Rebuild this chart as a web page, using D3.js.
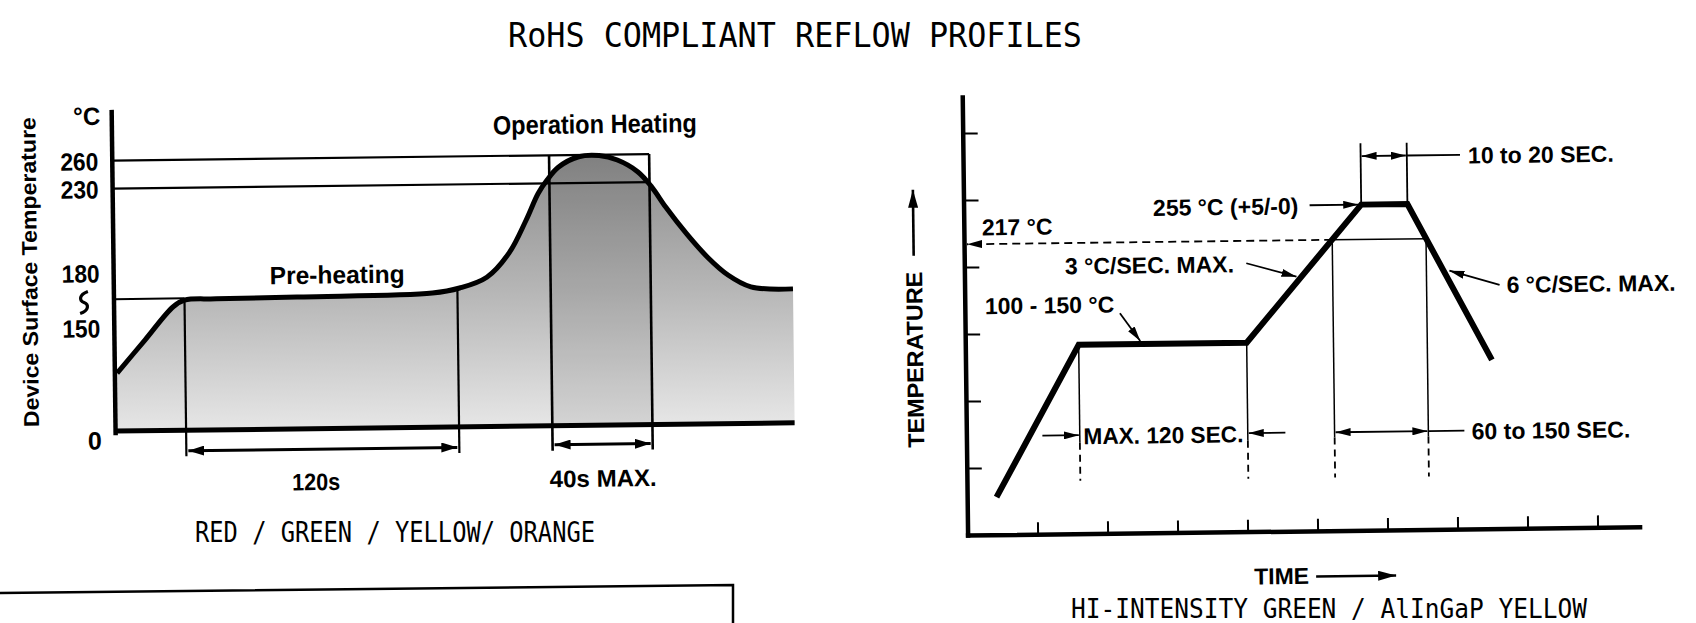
<!DOCTYPE html>
<html>
<head>
<meta charset="utf-8">
<script src="https://cdn.jsdelivr.net/npm/d3@7"></script>
<style>
  html, body { margin: 0; padding: 0; background: #fff; }
  svg { display: block; }
</style>
</head>
<body>
<svg id="chart" width="1696" height="623"></svg>
<script>
// ---------- data ----------
// left profile (RED / GREEN / YELLOW / ORANGE): time [s] and temperature [°C]
const leftTime = [1, 13.4, 26, 31, 45, 82, 140, 152, 164, 174, 181.5, 187, 191, 196, 205, 214, 222, 231, 237, 243, 252, 261, 270, 280, 298.5];
const leftTemp = [84, 131.4, 161, 164.5, 165, 165.5, 166.7, 169.3, 175, 189, 208, 224, 233.5, 247, 258, 259, 254, 241, 227, 215, 199, 185, 174.6, 168, 166.6];
const leftTicks = [0, 150, 180, 230, 260];
const leftTickLabels = ["0", "150", "180", "230", "260"];
const preheatWindow = [31, 151];   // 120s
const peakWindow = [192, 236];     // 40s MAX.
const preheatLevel = 165.5;

// right profile (HI-INTENSITY GREEN / AlInGaP YELLOW)
const rightTime = [21, 81, 201, 284, 317, 376];
const rightTemp = [28, 141, 141, 243, 243, 126];
const rightXTicks = [50, 100, 150, 200, 250, 300, 350, 400, 450];
const rightYTicks = [50, 100, 150, 200, 250, 300];
const liquidus = 217;
const soakWindow = [81, 201];
const liquidusWindow = [263, 330];
const peakHold = [284, 317];

const svg = d3.select("#chart");
const bold = "'Liberation Sans', Arial, sans-serif";
const mono = "'DejaVu Sans Mono', monospace";

// ---------- defs ----------
const defs = svg.append("defs");
function marker(id, w, h) {
  defs.append("marker")
    .attr("id", id)
    .attr("viewBox", `0 0 ${w} ${h}`)
    .attr("refX", w).attr("refY", h / 2)
    .attr("markerWidth", w).attr("markerHeight", h)
    .attr("markerUnits", "userSpaceOnUse")
    .attr("orient", "auto-start-reverse")
    .append("path")
    .attr("d", `M0,0L${w},${h / 2}L0,${h}Z`)
    .attr("fill", "#000");
}
marker("headL", 16, 10);
marker("headR", 15, 8);
marker("headBig", 18, 10);

// ---------- titles ----------
svg.append("text")
  .attr("x", 795).attr("y", 47)
  .attr("text-anchor", "middle")
  .attr("font-family", mono).attr("font-size", 34)
  .attr("textLength", 574).attr("lengthAdjust", "spacingAndGlyphs")
  .text("RoHS COMPLIANT REFLOW PROFILES");

svg.append("text")
  .attr("x", 195).attr("y", 541.5)
  .attr("font-family", mono).attr("font-size", 27.5)
  .attr("textLength", 400).attr("lengthAdjust", "spacingAndGlyphs")
  .text("RED / GREEN / YELLOW/ ORANGE");

svg.append("text")
  .attr("x", 1071).attr("y", 618)
  .attr("font-family", mono).attr("font-size", 26)
  .attr("textLength", 516).attr("lengthAdjust", "spacingAndGlyphs")
  .text("HI-INTENSITY GREEN / AlInGaP YELLOW");

// frame in lower left
svg.append("path")
  .attr("d", "M0,593L733,585L733,630")
  .attr("fill", "none").attr("stroke", "#000").attr("stroke-width", 2.5);

// ================= LEFT CHART =================
const gL = svg.append("g").attr("transform", "rotate(-0.7,450,300)");

const lx = d3.scaleLinear().domain([0, 300]).range([114, 796.5]);
const ly = d3.scaleLinear().domain(leftTicks).range([427, 323.5, 268.5, 184.5, 156.5]);

const leftData = leftTime.map((t, i) => ({ t, v: leftTemp[i] }));

const grad = defs.append("linearGradient")
  .attr("id", "fillGrad")
  .attr("gradientUnits", "userSpaceOnUse")
  .attr("x1", 0).attr("x2", 0)
  .attr("y1", ly(260)).attr("y2", ly(0));
grad.append("stop").attr("offset", 0).attr("stop-color", "#8c8c8c");
grad.append("stop").attr("offset", 0.5).attr("stop-color", "#b6b6b6");
grad.append("stop").attr("offset", 1).attr("stop-color", "#e6e6e6");

const curve = d3.curveCatmullRom.alpha(0.5);
const area = d3.area()
  .x(d => lx(d.t)).y0(ly(0)).y1(d => ly(d.v))
  .curve(curve);
const line = d3.line()
  .x(d => lx(d.t)).y(d => ly(d.v))
  .curve(curve);

defs.append("clipPath").attr("id", "areaClip")
  .append("path").attr("d", area(leftData));

gL.append("path")
  .attr("d", area(leftData))
  .attr("fill", "url(#fillGrad)");

// darker band inside the 40s window
gL.append("rect")
  .attr("x", lx(peakWindow[0])).attr("width", lx(peakWindow[1]) - lx(peakWindow[0]))
  .attr("y", ly(260) - 5).attr("height", ly(0) - ly(260) + 5)
  .attr("fill", "#000").attr("opacity", 0.08)
  .attr("clip-path", "url(#areaClip)");

// reference levels 260 / 230
[260, 230].forEach(v => {
  gL.append("line")
    .attr("x1", lx(0)).attr("x2", lx(peakWindow[1]))
    .attr("y1", ly(v)).attr("y2", ly(v))
    .attr("stroke", "#000").attr("stroke-width", 2.2);
});
// preheat level
gL.append("line")
  .attr("x1", lx(0)).attr("x2", lx(preheatWindow[0]))
  .attr("y1", ly(preheatLevel)).attr("y2", ly(preheatLevel))
  .attr("stroke", "#000").attr("stroke-width", 2);

// vertical markers
gL.append("line")
  .attr("x1", lx(preheatWindow[0])).attr("x2", lx(preheatWindow[0]))
  .attr("y1", ly(preheatLevel)).attr("y2", 453)
  .attr("stroke", "#000").attr("stroke-width", 2.2);
gL.append("line")
  .attr("x1", lx(preheatWindow[1])).attr("x2", lx(preheatWindow[1]))
  .attr("y1", ly(169)).attr("y2", 453)
  .attr("stroke", "#000").attr("stroke-width", 2.2);
peakWindow.forEach(t => {
  gL.append("line")
    .attr("x1", lx(t)).attr("x2", lx(t))
    .attr("y1", ly(260)).attr("y2", 452)
    .attr("stroke", "#000").attr("stroke-width", 2.6);
});

// profile curve
gL.append("path")
  .attr("d", line(leftData))
  .attr("fill", "none").attr("stroke", "#000").attr("stroke-width", 5)
  .attr("stroke-linejoin", "round");

// axes
gL.append("line")
  .attr("x1", lx(0)).attr("x2", lx(298.5))
  .attr("y1", ly(0)).attr("y2", ly(0))
  .attr("stroke", "#000").attr("stroke-width", 5);
gL.append("line")
  .attr("x1", lx(0)).attr("x2", lx(0))
  .attr("y1", ly(0) + 2).attr("y2", 108)
  .attr("stroke", "#000").attr("stroke-width", 4.5).attr("stroke-linecap", "square");

const lAxis = gL.append("g")
  .attr("transform", "translate(100,0)")
  .call(d3.axisLeft(ly).tickValues(leftTicks)
    .tickFormat((d, i) => leftTickLabels[i]).tickSize(0).tickPadding(0));
lAxis.select(".domain").remove();
lAxis.attr("font-family", bold).attr("font-size", 25).attr("font-weight", "bold");
lAxis.selectAll("text")
  .attr("fill", "#000")
  .attr("dy", d => d === 0 ? "0.7em" : "0.36em")
  .attr("textLength", d => d === 0 ? null : 38)
  .attr("lengthAdjust", "spacingAndGlyphs");

// axis break mark between 180 and 150
const brk = d3.path();
brk.moveTo(88, 287);
brk.bezierCurveTo(79, 290, 79, 296, 84, 298);
brk.bezierCurveTo(89, 300, 89, 306, 80, 309);
gL.append("path").attr("d", brk.toString())
  .attr("fill", "none").attr("stroke", "#000").attr("stroke-width", 3.2);

gL.append("text")
  .attr("x", 89).attr("y", 120.5).attr("text-anchor", "middle")
  .attr("font-family", bold).attr("font-weight", "bold").attr("font-size", 25)
  .attr("textLength", 27).attr("lengthAdjust", "spacingAndGlyphs")
  .text("°C");

gL.append("text")
  .attr("transform", "translate(37.5,267) rotate(-90)")
  .attr("text-anchor", "middle")
  .attr("font-family", bold).attr("font-weight", "bold").attr("font-size", 21.5)
  .attr("textLength", 310).attr("lengthAdjust", "spacingAndGlyphs")
  .text("Device Surface Temperature");

gL.append("text")
  .attr("x", 495).attr("y", 135)
  .attr("font-family", bold).attr("font-weight", "bold").attr("font-size", 26.5)
  .attr("textLength", 204).attr("lengthAdjust", "spacingAndGlyphs")
  .text("Operation Heating");

gL.append("text")
  .attr("x", 270).attr("y", 282)
  .attr("font-family", bold).attr("font-weight", "bold").attr("font-size", 25)
  .attr("textLength", 135).attr("lengthAdjust", "spacingAndGlyphs")
  .text("Pre-heating");

// duration arrows
gL.append("line")
  .attr("x1", lx(preheatWindow[0]) + 2).attr("x2", lx(preheatWindow[1]) - 2)
  .attr("y1", 447.5).attr("y2", 447.5)
  .attr("stroke", "#000").attr("stroke-width", 3)
  .attr("marker-start", "url(#headL)").attr("marker-end", "url(#headL)");
gL.append("line")
  .attr("x1", lx(peakWindow[0]) + 2).attr("x2", lx(peakWindow[1]) - 2)
  .attr("y1", 446).attr("y2", 446)
  .attr("stroke", "#000").attr("stroke-width", 3)
  .attr("marker-start", "url(#headL)").attr("marker-end", "url(#headL)");

gL.append("text")
  .attr("x", 314).attr("y", 488.5).attr("text-anchor", "middle")
  .attr("font-family", bold).attr("font-weight", "bold").attr("font-size", 24)
  .attr("textLength", 48).attr("lengthAdjust", "spacingAndGlyphs")
  .text("120s");
gL.append("text")
  .attr("x", 601).attr("y", 488.5).attr("text-anchor", "middle")
  .attr("font-family", bold).attr("font-weight", "bold").attr("font-size", 24)
  .attr("textLength", 107).attr("lengthAdjust", "spacingAndGlyphs")
  .text("40s MAX.");

// ================= RIGHT CHART =================
const gR = svg.append("g").attr("transform", "rotate(-0.7,1300,320)");

const rx = d3.scaleLinear().domain([0, 480]).range([965, 1637]);
const ry = d3.scaleLinear().domain([0, 327]).range([531, 92.8]);

const xAxisR = gR.append("g")
  .attr("transform", `translate(0,${ry(0)})`)
  .call(d3.axisBottom(rx).tickValues(rightXTicks).tickSize(-12).tickSizeOuter(0).tickFormat(""));
const yAxisR = gR.append("g")
  .attr("transform", `translate(${rx(0)},0)`)
  .call(d3.axisLeft(ry).tickValues(rightYTicks).tickSize(-15).tickSizeOuter(0).tickFormat(""));
[xAxisR, yAxisR].forEach(a => {
  a.select(".domain").attr("stroke", "#000").attr("stroke-width", 4.5).attr("stroke-linecap", "square");
  a.selectAll(".tick line").attr("stroke", "#000").attr("stroke-width", 2);
});

function seg(x1, y1, x2, y2, opts = {}) {
  const l = gR.append("line")
    .attr("x1", x1).attr("y1", y1).attr("x2", x2).attr("y2", y2)
    .attr("stroke", "#000").attr("stroke-width", opts.w || 1.8);
  if (opts.dash) l.attr("stroke-dasharray", opts.dash);
  if (opts.start) l.attr("marker-start", `url(#${opts.start})`);
  if (opts.end) l.attr("marker-end", `url(#${opts.end})`);
  return l;
}

// 217 °C level
seg(rx(liquidusWindow[0]), ry(liquidus), rx(0) + 3, ry(liquidus), { dash: "8,5", end: "headR" });
seg(rx(liquidusWindow[0]), ry(liquidus), rx(liquidusWindow[1]), ry(liquidus), { w: 1.5 });

// soak window verticals
soakWindow.forEach(t => {
  seg(rx(t), ry(141), rx(t), 440, { w: 1.5 });
  seg(rx(t), 440, rx(t), 478, { w: 1.8, dash: "7,5" });
});
// time above liquidus verticals
liquidusWindow.forEach(t => {
  seg(rx(t), ry(liquidus), rx(t), 438, { w: 1.5 });
  seg(rx(t), 438, rx(t), 478, { w: 1.8, dash: "7,5" });
});
// peak hold verticals
peakHold.forEach(t => seg(rx(t), ry(243), rx(t), 144, { w: 1.8 }));

// profile
const rightData = rightTime.map((t, i) => ({ t, v: rightTemp[i] }));
gR.append("path")
  .attr("d", d3.line().x(d => rx(d.t)).y(d => ry(d.v))(rightData))
  .attr("fill", "none").attr("stroke", "#000").attr("stroke-width", 6)
  .attr("stroke-linejoin", "miter");

// annotation arrows
seg(rx(peakHold[0]) + 1, 156.8, rx(peakHold[1]) - 1, 156.8, { start: "headR", end: "headR" });
seg(rx(peakHold[1]), 156.8, 1462, 156.8);
seg(1311, ry(243), rx(peakHold[0]) - 3, ry(243), { end: "headR" });
seg(1247, 262.6, 1297, 276.7, { end: "headR" });
seg(1120, 311.1, 1140, 339, { end: "headR" });
seg(1041, 432.5, rx(soakWindow[0]) - 1, 432.5, { end: "headR" });
seg(1284, 432.5, rx(soakWindow[1]) + 1, 432.5, { end: "headR" });
seg(rx(liquidusWindow[0]) + 1, 432.7, rx(liquidusWindow[1]) - 1, 432.7, { start: "headR", end: "headR" });
seg(rx(liquidusWindow[1]), 432.7, 1463, 432.7);
seg(1500, 287.4, 1450, 272.5, { end: "headR" });

// axis titles
seg(914.5, 251, 914.5, 185, { w: 2.6, end: "headBig" });
seg(1313, 576.7, 1393, 576.7, { w: 2.6, end: "headBig" });

const rLabels = [
  { x: 1470, y: 165.6, s: "10 to 20 SEC." },
  { x: 1154.4, y: 214.1, s: "255 °C (+5/-0)" },
  { x: 983, y: 231.6, s: "217 °C" },
  { x: 1065.7, y: 271.5, s: "3 °C/SEC. MAX." },
  { x: 985, y: 310.3, s: "100 - 150 °C" },
  { x: 1082, y: 441.6, s: "MAX. 120 SEC.", len: 160 },
  { x: 1470.3, y: 441.4, s: "60 to 150 SEC." },
  { x: 1507, y: 295.3, s: "6 °C/SEC. MAX." },
  { x: 1251, y: 583.8, s: "TIME" }
];
rLabels.forEach(d => {
  const t = gR.append("text")
    .attr("x", d.x).attr("y", d.y)
    .attr("font-family", bold).attr("font-weight", "bold").attr("font-size", 23)
    .text(d.s);
  if (d.len) t.attr("textLength", d.len).attr("lengthAdjust", "spacingAndGlyphs");
});

gR.append("text")
  .attr("transform", "translate(922.6,355) rotate(-90)")
  .attr("text-anchor", "middle")
  .attr("font-family", bold).attr("font-weight", "bold").attr("font-size", 23)
  .attr("textLength", 176).attr("lengthAdjust", "spacingAndGlyphs")
  .text("TEMPERATURE");
</script>
</body>
</html>
